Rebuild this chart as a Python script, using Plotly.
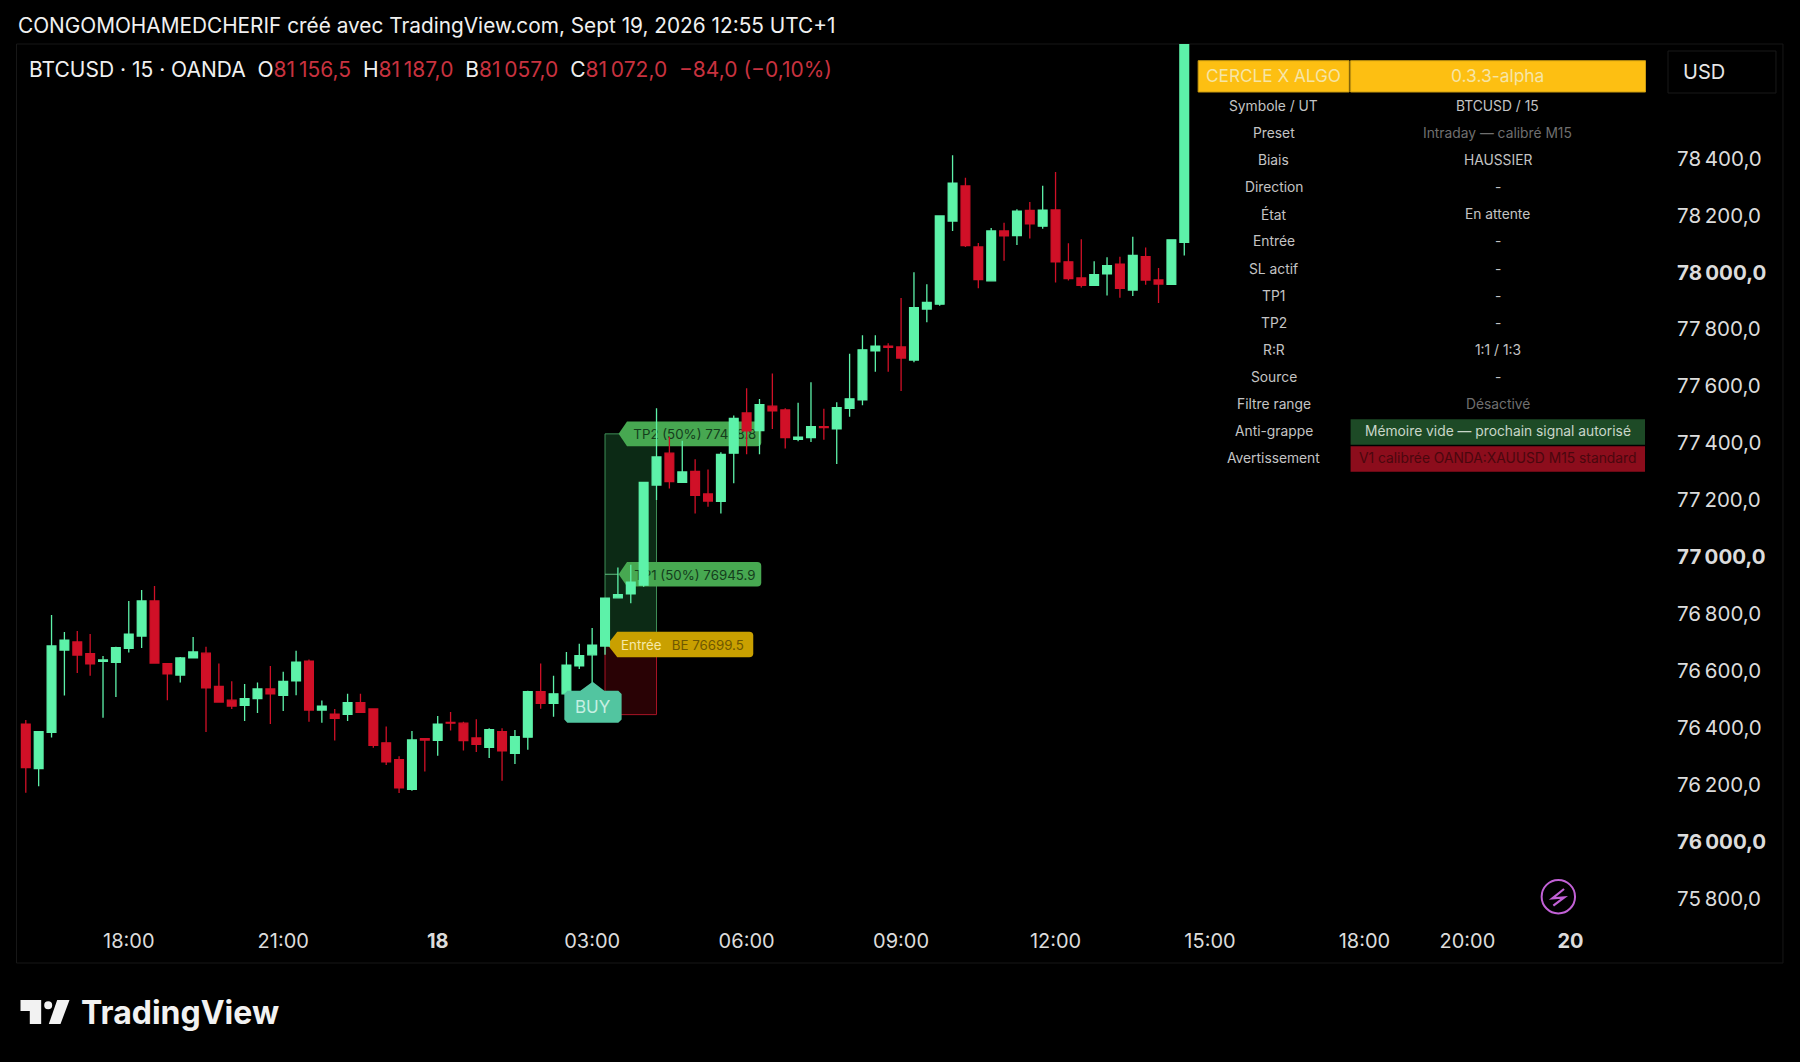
import plotly.graph_objects as go

W = 1800
H = 1062
M_L = 16.5
M_R = 132
M_T = 44
M_B = 147

# 15 min candles (last one runs off the top of the pane)
opens = [76414, 76258, 76385, 76674, 76702, 76661, 76634, 76631, 76680, 76723,
         76846, 76626, 76586, 76646, 76663, 76546, 76498, 76480, 76503, 76537,
         76515, 76566, 76635, 76463, 76449, 76448, 76489, 76467, 76348, 76289,
         76185, 76363, 76357, 76420, 76417, 76365, 76332, 76387, 76311, 76368,
         76528, 76487, 76520, 76618, 76657, 76688, 76857, 76871, 76902, 77253,
         77365, 77263, 77301, 77222, 77196, 77365, 77506, 77444, 77530, 77517,
         77414, 77420, 77458, 77450, 77522, 77552, 77724, 77741, 77738, 77692,
         77871, 77888, 78180, 78303, 78089, 77970, 78145, 78129, 78217, 78162,
         78219, 78037, 77980, 77954, 77995, 78029, 77938, 78055, 77973, 77958,
         78105]
highs = [76428, 76390, 76797, 76737, 76741, 76730, 76653, 76685, 76846, 76885,
         76899, 76626, 76649, 76720, 76685, 76627, 76564, 76555, 76560, 76618,
         76598, 76671, 76641, 76497, 76467, 76520, 76520, 76467, 76405, 76301,
         76390, 76363, 76442, 76456, 76422, 76431, 76399, 76399, 76393, 76531,
         76627, 76584, 76667, 76696, 76751, 76856, 76964, 76973, 77262, 77523,
         77423, 77409, 77344, 77308, 77368, 77497, 77593, 77555, 77645, 77523,
         77542, 77614, 77521, 77544, 77714, 77779, 77779, 77751, 77910, 78000,
         77958, 78200, 78411, 78332, 78103, 78156, 78174, 78221, 78247, 78304,
         78352, 78102, 78116, 78039, 78053, 78055, 78125, 78087, 78015, 78114,
         79400]
lows = [76173, 76196, 76367, 76514, 76593, 76584, 76436, 76509, 76665, 76681,
        76628, 76498, 76560, 76644, 76386, 76491, 76467, 76425, 76453, 76414,
        76460, 76515, 76422, 76419, 76356, 76425, 76454, 76331, 76270, 76172,
        76180, 76247, 76303, 76391, 76321, 76316, 76295, 76215, 76274, 76324,
        76468, 76440, 76516, 76607, 76557, 76657, 76857, 76838, 76896, 77201,
        77241, 77263, 77153, 77177, 77153, 77259, 77361, 77361, 77450, 77381,
        77407, 77404, 77412, 77327, 77493, 77533, 77651, 77651, 77583, 77684,
        77825, 77883, 78145, 78089, 77944, 77970, 78041, 78096, 78119, 78153,
        77964, 77971, 77947, 77954, 77919, 77911, 77917, 77956, 77892, 77956,
        78059]
closes = [76261, 76387, 76688, 76709, 76656, 76625, 76639, 76682, 76730, 76846,
          76628, 76590, 76646, 76667, 76541, 76491, 76477, 76503, 76537, 76520,
          76564, 76631, 76463, 76477, 76434, 76489, 76455, 76339, 76281, 76190,
          76358, 76358, 76414, 76417, 76356, 76343, 76394, 76320, 76370, 76528,
          76487, 76520, 76621, 76654, 76691, 76856, 76868, 76912, 77262, 77352,
          77265, 77299, 77217, 77197, 77361, 77487, 77443, 77535, 77514, 77420,
          77421, 77458, 77455, 77525, 77556, 77728, 77741, 77737, 77699, 77876,
          77894, 78198, 78313, 78094, 77974, 78145, 78128, 78215, 78170, 78218,
          78037, 77978, 77954, 77992, 78023, 77944, 78059, 77973, 77959, 78114,
          79300]
bars = list(range(len(opens)))

time_ticks = [8, 20, 32, 44, 56, 68, 80, 92, 104, 112, 120]
time_labels = ["18:00", "21:00", "<b>18</b>", "03:00", "06:00", "09:00", "12:00",
               "15:00", "18:00", "20:00", "<b>20</b>"]
price_ticks = [75800, 76000, 76200, 76400, 76600, 76800, 77000, 77200, 77400, 77600,
               77800, 78000, 78200, 78400]
price_labels = ["75\u2009800,0", "<b>76\u2009000,0</b>", "76\u2009200,0", "76\u2009400,0",
                "76\u2009600,0", "76\u2009800,0", "<b>77\u2009000,0</b>", "77\u2009200,0",
                "77\u2009400,0", "77\u2009600,0", "77\u2009800,0", "<b>78\u2009000,0</b>",
                "78\u2009200,0", "78\u2009400,0"]

entry_bar = 45
exit_bar = 49
entry_price = 76699.5
tp1_price = 76945.9
tp2_price = 77438.8
sl_price = 76453.1

table_labels = ["Symbole / UT", "Preset", "Biais", "Direction", "État", "Entrée", "SL actif",
                "TP1", "TP2", "R:R", "Source", "Filtre range", "Anti-grappe", "Avertissement"]
table_values = ["BTCUSD / 15", "Intraday — calibré M15", "HAUSSIER", "-", "En attente", "-", "-",
                "-", "-", "1:1 / 1:3", "-", "Désactivé",
                "Mémoire vide — prochain signal autorisé", "V1 calibrée OANDA:XAUUSD M15 standard"]
table_colors = ["#c4c4c4", "#6f6f6f", "#c4c4c4", "#c4c4c4", "#c4c4c4", "#c4c4c4", "#c4c4c4",
                "#c4c4c4", "#c4c4c4", "#c4c4c4", "#c4c4c4", "#6f6f6f", "#c9d6c9", "#4a070e"]

x_range = [-0.683, 127.58]
y_range = [75743.6, 78801.6]
FONT = "Inter"
TEXT = "#dcdcdc"
GREEN = "#5df2a9"
RED = "#d01027"
RED_TXT = "#c8323f"


def px_x(p):
    return (p - M_L) / (W - M_L - M_R)


def px_y(p):
    return 1 - (p - M_T) / (H - M_T - M_B)


def bar_px(i):
    return M_L + (i - x_range[0]) / (x_range[1] - x_range[0]) * (W - M_L - M_R)


def price_px(v):
    # the drawn levels sit a touch under the axis reading
    return M_T + (y_range[1] - v) / (y_range[1] - y_range[0]) * (H - M_T - M_B) + 1.7


def poly(points):
    s = ""
    for i, (a, b) in enumerate(points):
        s += ("M" if i == 0 else "L") + f"{px_x(a):.5f},{px_y(b):.5f} "
    return s + "Z"


def tag_path(x0, x1, y0, y1, tip):
    # rounded box with a small arrow on the left side
    r = 4
    cy = (y0 + y1) / 2
    return (f"M{px_x(tip):.5f},{px_y(cy):.5f} "
            f"L{px_x(x0):.5f},{px_y(y0):.5f} "
            f"L{px_x(x1 - r):.5f},{px_y(y0):.5f} "
            f"Q{px_x(x1):.5f},{px_y(y0):.5f} {px_x(x1):.5f},{px_y(y0 + r):.5f} "
            f"L{px_x(x1):.5f},{px_y(y1 - r):.5f} "
            f"Q{px_x(x1):.5f},{px_y(y1):.5f} {px_x(x1 - r):.5f},{px_y(y1):.5f} "
            f"L{px_x(x0):.5f},{px_y(y1):.5f} Z")


shapes = []
annots = []


def box(x0, y0, x1, y1, fill, line=None, lw=0, layer="above"):
    shapes.append(dict(type="rect", xref="paper", yref="paper", layer=layer,
                       x0=px_x(x0), x1=px_x(x1), y0=px_y(y0), y1=px_y(y1),
                       fillcolor=fill, line=dict(color=line or fill, width=lw)))


def text(x, y, s, size=13.8, color=TEXT, anchor="center", family=FONT):
    annots.append(dict(xref="paper", yref="paper", x=px_x(x), y=px_y(y), text=s,
                       showarrow=False, xanchor=anchor, yanchor="middle",
                       font=dict(family=family, size=size, color=color)))


def under_text(x0, x1, cy, s, color, size=13.3):
    # text held by a blank shape so the candles pass over it
    shapes.append(dict(type="rect", xref="paper", yref="paper", layer="below",
                       x0=px_x(x0), x1=px_x(x1), y0=px_y(cy - 10), y1=px_y(cy + 10),
                       fillcolor="rgba(0,0,0,0)", line=dict(width=0),
                       label=dict(text=s, textposition="middle center",
                                  font=dict(family=FONT, size=size, color=color))))


# position zones
box(bar_px(entry_bar), price_px(tp2_price), bar_px(exit_bar), price_px(entry_price),
    "#0c2a15", "#3f8f58", 1, layer="below")
box(bar_px(entry_bar), price_px(entry_price), bar_px(exit_bar), price_px(sl_price),
    "#290205", "#a81426", 1, layer="below")
shapes.append(dict(type="line", layer="below", xref="paper", yref="paper",
                   x0=px_x(bar_px(entry_bar)), x1=px_x(618), y0=px_y(price_px(tp1_price)),
                   y1=px_y(price_px(tp1_price)), line=dict(color="#5fbf80", width=1)))

# price tags
for level, s in [(tp2_price, "TP2 (50%) 77438.8"), (tp1_price, "TP1 (50%) 76945.9")]:
    cy = price_px(level)
    shapes.append(dict(type="path", layer="below", xref="paper", yref="paper",
                       path=tag_path(626.7, 761, cy - 12.3, cy + 12.3, 618.3),
                       fillcolor="#47a851", line=dict(width=0)))
    under_text(636, 753, cy, s, "#143d1c")
cy = price_px(entry_price)
shapes.append(dict(type="path", layer="below", xref="paper", yref="paper",
                   path=tag_path(617, 753, cy - 12.7, cy + 12.7, 607),
                   fillcolor="#c9a000", line=dict(width=0)))
under_text(620, 662, cy, "Entrée", "#f6e9a8")
under_text(670, 745, cy, "BE 76699.5", "#6f5800")

# BUY tag
shapes.append(dict(type="path", layer="above", xref="paper", yref="paper",
                   path=poly([(592.3, 681.7), (604, 690.7), (618, 690.7), (621.3, 694), (621.3, 719.5),
                              (618, 722.7), (567, 722.7), (564, 719.5), (564, 694), (567, 690.7),
                              (580, 690.7)]),
                   fillcolor="#52c5a0", line=dict(width=0)))
text(592.3, 707, "BUY", size=17, color="#c6efe2")

# indicator table
box(1198, 60.7, 1349, 92, "#fdbf12", "#c99a10", 1)
box(1350.5, 60.7, 1645.5, 92, "#fdbf12", "#c99a10", 1)
text(1273.7, 75.5, "CERCLE X ALGO", size=17.2, color="#f6e5a6")
text(1497.8, 75.5, "0.3.3-alpha", size=17.4, color="#f6e5a6")
box(1350.5, 419.3, 1645, 444.7, "#1d4a26")
box(1350.5, 446.3, 1645, 471.7, "#8c0d1c")
for i in range(len(table_labels)):
    row_y = 105.8 + i * 27.13
    text(1273.7, row_y, table_labels[i], color="#c4c4c4")
    text(1497.8, row_y, table_values[i], color=table_colors[i])

# pane border and currency box
box(16, 44, 1783, 963, "rgba(0,0,0,0)", "#171717", 1, layer="below")
box(1668, 51, 1776, 93, "rgba(0,0,0,0)", "#191919", 1)
text(1681, 72, "USD", size=20, anchor="left", color="#e6e6e6")

# flash icon
shapes.append(dict(type="circle", xref="paper", yref="paper", layer="above",
                   x0=px_x(1541.6), x1=px_x(1575), y0=px_y(880), y1=px_y(913.4),
                   line=dict(color="#c261d6", width=2), fillcolor="rgba(0,0,0,0)"))
shapes.append(dict(type="path", xref="paper", yref="paper", layer="above",
                   path=(f"M{px_x(1564):.5f},{px_y(889):.5f} L{px_x(1552.3):.5f},{px_y(898.3):.5f} "
                         f"L{px_x(1564.3):.5f},{px_y(897.3):.5f} L{px_x(1553.3):.5f},{px_y(905.7):.5f}"),
                   line=dict(color="#c261d6", width=2.2)))

# logo
logo = "#f2f2f2"
shapes.append(dict(type="path", xref="paper", yref="paper", fillcolor=logo, line=dict(width=0),
                   path=poly([(20, 1000), (40.7, 1000), (40.7, 1024), (29.3, 1024), (29.3, 1011), (20, 1011)])))
shapes.append(dict(type="circle", xref="paper", yref="paper", fillcolor=logo, line=dict(width=0),
                   x0=px_x(43.7), x1=px_x(51.7), y0=px_y(1001.3), y1=px_y(1009.3)))
shapes.append(dict(type="path", xref="paper", yref="paper", fillcolor=logo, line=dict(width=0),
                   path=poly([(56.7, 1000), (69, 1000), (60, 1024), (48.3, 1024)])))
text(78.5, 1012, "<b>TradingView</b>", size=32, color=logo, anchor="left", family="Inter")

# header lines
text(15, 25, "CONGOMOHAMEDCHERIF créé avec TradingView.com, Sept 19, 2026 12:55 UTC+1",
     size=20.8, color="#f0f0f0", anchor="left")


def red(s):
    return f'<span style="color:{RED_TXT}">{s}</span>'


text(27, 70,
     "BTCUSD · 15 · OANDA  O" + red("81\u2009156,5") + "  H" + red("81\u2009187,0") + "  B"
     + red("81\u2009057,0") + "  C" + red("81\u2009072,0") + "  " + red("−84,0 (−0,10%)"),
     size=21, color="#f0f0f0", anchor="left")

fig = go.Figure(go.Candlestick(
    x=bars, open=opens, high=highs, low=lows, close=closes,
    increasing=dict(line=dict(color=GREEN, width=1.3), fillcolor=GREEN),
    decreasing=dict(line=dict(color=RED, width=1.3), fillcolor=RED),
    whiskerwidth=0, showlegend=False,
))
fig.update_layout(
    width=W, height=H,
    margin=dict(l=M_L, r=M_R, t=M_T, b=M_B, pad=0),
    paper_bgcolor="#000000", plot_bgcolor="#000000",
    boxgap=0.2, boxgroupgap=0.15,
    shapes=shapes, annotations=annots,
    font=dict(family=FONT, color=TEXT),
    xaxis=dict(range=x_range, rangeslider=dict(visible=False), showgrid=False, zeroline=False,
               showline=False, tickmode="array", tickvals=time_ticks, ticktext=time_labels,
               ticks="outside", ticklen=8, tickcolor="rgba(0,0,0,0)",
               tickfont=dict(family=FONT, size=20, color=TEXT)),
    yaxis=dict(range=y_range, side="right", showgrid=False, zeroline=False, showline=False,
               tickmode="array", tickvals=price_ticks, ticktext=price_labels,
               ticks="outside", ticklen=4, tickcolor="rgba(0,0,0,0)",
               tickfont=dict(family=FONT, size=20.5, color=TEXT)),
)
fig.write_html("out.html", config={"displayModeBar": False},
               post_script="document.body.style.margin='0';document.body.style.background='#000';")
